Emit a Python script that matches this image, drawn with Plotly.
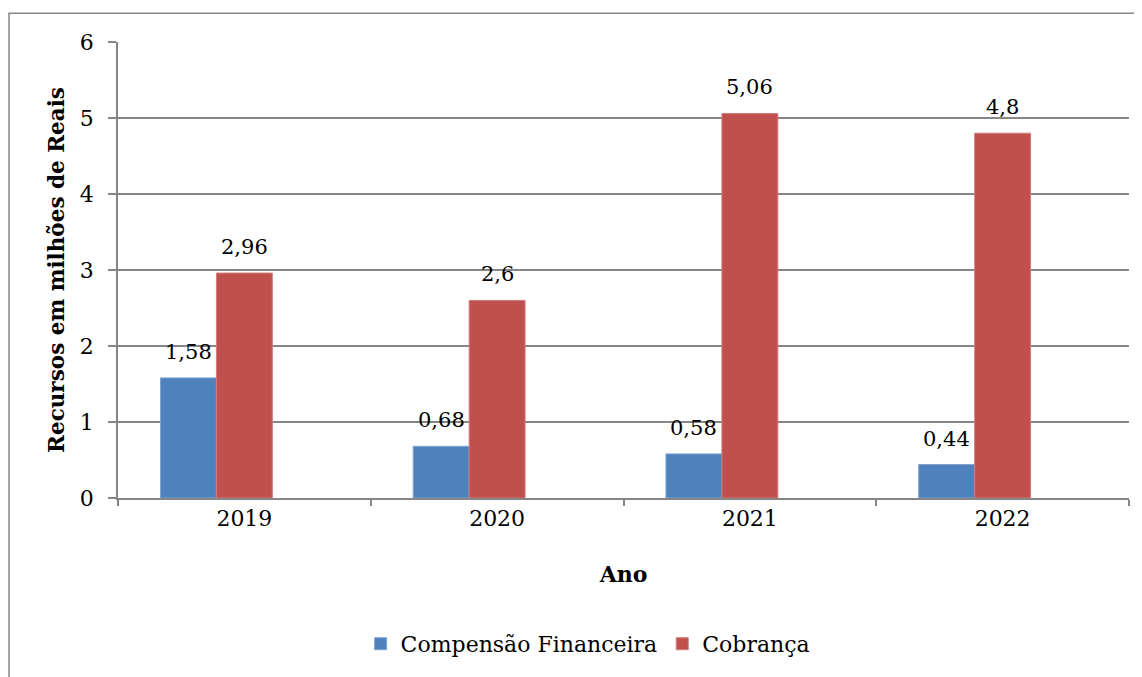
import plotly.graph_objects as go

# =========================
# DADOS
# =========================
anos = ["2019", "2020", "2021", "2022"]
compensacao = [1.58, 0.68, 0.58, 0.44]
cobranca = [2.96, 2.6, 5.06, 4.8]

AZUL = "#4F81BD"
VERMELHO = "#C0504D"
CINZA = "#868686"
FONTE = "DejaVu Serif"

# largura de cada barra (fração da categoria); o Excel reserva 3 posições
LARG = 0.2213


def rotulo(v):
    return f"{v:g}".replace(".", ",")


fig = go.Figure()

fig.add_trace(go.Bar(
    x=anos, y=compensacao, name="Compensão Financeira",
    width=LARG, offset=-1.5 * LARG,
    marker=dict(color=AZUL, line=dict(color="#7FA3D1", width=1)),
))
fig.add_trace(go.Bar(
    x=anos, y=cobranca, name="Cobrança",
    width=LARG, offset=-0.5 * LARG,
    marker=dict(color=VERMELHO, line=dict(color="#D47C79", width=1)),
))

# rótulos de dados acima das barras (x = índice da categoria)
for serie, desloc in [(compensacao, -LARG), (cobranca, 0.0)]:
    for i, v in enumerate(serie):
        fig.add_annotation(
            x=i + desloc, y=v, text=rotulo(v), showarrow=False,
            yshift=12, yanchor="bottom",
            font=dict(family=FONTE, size=21, color="#000000"),
        )

# moldura do gráfico
fig.add_shape(
    type="rect", xref="paper", yref="paper",
    x0=-0.1078, x1=1.05, y0=-0.42, y1=1.0633,
    line=dict(color=CINZA, width=1.5), layer="below",
)

fig.update_layout(
    width=1134, height=669,
    margin=dict(l=110, r=13, t=34, b=177),
    paper_bgcolor="white", plot_bgcolor="white",
    barmode="overlay",
    separators=",.",
    font=dict(family=FONTE, size=22, color="#000000"),
    legend=dict(
        orientation="h", x=0.465, xanchor="center", y=-0.32, yanchor="middle",
        font=dict(family=FONTE, size=22), itemwidth=30, traceorder="normal",
    ),
    xaxis=dict(
        type="category", range=[-0.5, len(anos) - 0.5],
        showline=True, linecolor=CINZA, linewidth=1.5,
        ticks="outside", tickson="boundaries", ticklen=6, tickcolor=CINZA, tickwidth=1.5,
        showgrid=False,
        tickfont=dict(family=FONTE, size=22),
        title=dict(text="<b>Ano</b>", font=dict(family=FONTE, size=22), standoff=36),
    ),
    yaxis=dict(
        range=[0, 6], dtick=1,
        showline=True, linecolor=CINZA, linewidth=1.5,
        ticks="outside", ticklen=8, tickcolor=CINZA, tickwidth=1.5,
        showgrid=True, gridcolor=CINZA, gridwidth=1.5,
        zeroline=False,
        tickfont=dict(family=FONTE, size=22),
        ticklabelstandoff=10,
        title=dict(text="<b>Recursos em milhões de Reais</b>",
                   font=dict(family=FONTE, size=21.5), standoff=9),
    ),
)

fig.write_html("out.html")
